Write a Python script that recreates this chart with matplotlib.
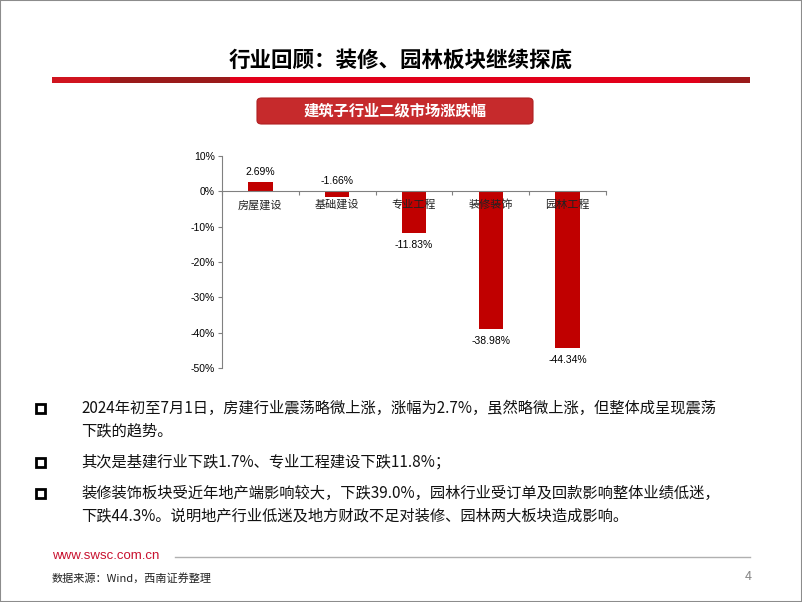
import matplotlib.pyplot as plt
from matplotlib.patches import Rectangle, FancyBboxPatch
from matplotlib.ticker import FuncFormatter, FixedLocator

plt.rcParams['font.family'] = ['Noto Sans CJK SC', 'DejaVu Sans']
num_font = ['Liberation Sans', 'Noto Sans CJK SC']

categories = ['房屋建设', '基础建设', '专业工程', '装修装饰', '园林工程']
changes = [2.69, -1.66, -11.83, -38.98, -44.34]
y_ticks = [10, 0, -10, -20, -30, -40, -50]

bullets = [
    ['2024年初至7月1日，房建行业震荡略微上涨，涨幅为2.7%，虽然略微上涨，但整体成呈现震荡',
     '下跌的趋势。'],
    ['其次是基建行业下跌1.7%、专业工程建设下跌11.8%；'],
    ['装修装饰板块受近年地产端影响较大，下跌39.0%，园林行业受订单及回款影响整体业绩低迷，',
     '下跌44.3%。说明地产行业低迷及地方财政不足对装修、园林两大板块造成影响。'],
]

W, H = 802, 602
fig = plt.figure(figsize=(W / 100, H / 100), dpi=100)


def fx(px):
    return px / W


def fy(py):
    return 1 - py / H


# slide border
fig.patches.append(Rectangle((0, 0), 1, 1, transform=fig.transFigure, fill=False,
                             edgecolor='#8c8c8c', linewidth=1.5))

# title
fig.text(fx(401), fy(60), '行业回顾：装修、园林板块继续探底', ha='center', va='center',
         fontsize=15.5, fontweight='heavy', color='black')

# red rule under title
segments = [(52, 110, '#d0141f'), (110, 230, '#9a1a1a'), (230, 700, '#e2001a'), (700, 750, '#9a1a1a')]
for x0, x1, c in segments:
    fig.patches.append(Rectangle((fx(x0), fy(83)), fx(x1 - x0), 6 / H, transform=fig.transFigure,
                                 facecolor=c, edgecolor='none'))

# chart caption box
fig.patches.append(FancyBboxPatch((fx(257), fy(124)), fx(276), 26 / H,
                                  boxstyle='round,pad=0,rounding_size=0.006',
                                  transform=fig.transFigure, facecolor='#c62a2c',
                                  edgecolor='#b02022', linewidth=0.8))
fig.text(fx(395), fy(110), '建筑子行业二级市场涨跌幅', ha='center', va='center',
         fontsize=11, fontweight='bold', color='white')

# bar chart
ax = fig.add_axes([fx(222), fy(368), fx(606 - 222), (368 - 156) / H])
x = list(range(len(categories)))
ax.bar(x, changes, width=0.32, color='#c00000', zorder=1)
ax.set_axisbelow(False)
ax.set_xlim(-0.5, len(categories) - 0.5)
ax.set_ylim(-50, 10)
ax.set_yticks(y_ticks)
ax.yaxis.set_major_formatter(FuncFormatter(lambda v, p: f'{v:.0f}%'))
ax.tick_params(axis='y', labelsize=7.5, length=3, width=0.8, pad=2, color='#808080')
for lab in ax.get_yticklabels():
    lab.set_family(num_font)

ax.spines['top'].set_visible(False)
ax.spines['right'].set_visible(False)
ax.spines['bottom'].set_position(('data', 0))
ax.spines['left'].set_color('#808080')
ax.spines['bottom'].set_color('#808080')
ax.set_xticks(x)
ax.set_xticklabels(categories, fontsize=8, color='#222222')
ax.tick_params(axis='x', which='major', length=0, pad=6)
ax.xaxis.set_minor_locator(FixedLocator([i + 0.5 for i in range(-1, len(categories))]))
ax.tick_params(axis='x', which='minor', length=3, width=0.8, color='#808080')

for xi, v in zip(x, changes):
    if v > 0:
        ax.text(xi, v + 1.5, f'{v:.2f}%', ha='center', va='bottom', fontsize=7.5, family=num_font)
    elif v > -5:
        ax.text(xi, 1.5, f'{v:.2f}%', ha='center', va='bottom', fontsize=7.5, family=num_font)
    else:
        ax.text(xi, v - 2.0, f'{v:.2f}%', ha='center', va='top', fontsize=7.5, family=num_font)

# bullet text
line_y = [[408, 431], [462], [493, 516]]
for lines, ys in zip(bullets, line_y):
    fig.patches.append(Rectangle((fx(36), fy(ys[0] + 4.5)), fx(9), 9 / H, transform=fig.transFigure,
                                 facecolor='white', edgecolor='black', linewidth=2))
    for t, yy in zip(lines, ys):
        fig.text(fx(81), fy(yy), t, ha='left', va='center', fontsize=11, color='#111111')

# footer
fig.text(fx(52), fy(556), 'www.swsc.com.cn', ha='left', va='center', fontsize=9.5,
         color='#c8102e', family=['Liberation Sans', 'DejaVu Sans'])
fig.lines.append(plt.Line2D([fx(175), fx(750)], [fy(557), fy(557)], transform=fig.transFigure,
                            color='#b0b0b0', linewidth=1))
fig.text(fx(52), fy(578), '数据来源：Wind，西南证券整理', ha='left', va='center', fontsize=8,
         style='italic', color='#222222')
fig.text(fx(752), fy(576), '4', ha='right', va='center', fontsize=9, color='#888888')

fig.savefig('out.png', dpi=100)
